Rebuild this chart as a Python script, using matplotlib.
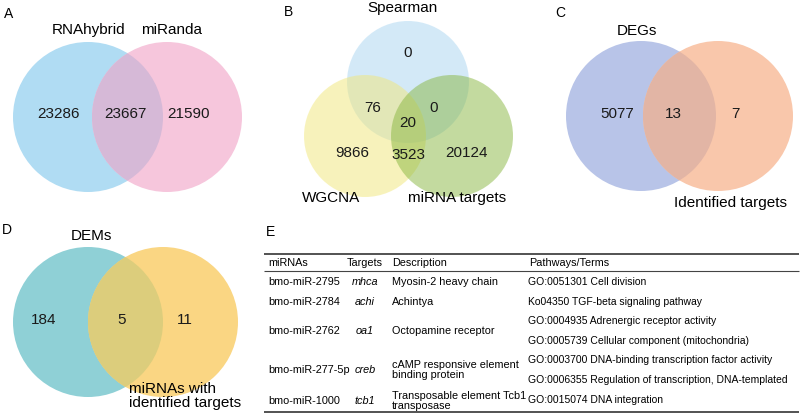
import matplotlib
matplotlib.use("Agg")
import matplotlib.pyplot as plt
from matplotlib.patches import Circle

plt.rcParams['font.family'] = ['Liberation Sans', 'DejaVu Sans']

# panel A
a_sets = ["RNAhybrid", "miRanda"]
a_counts = [23286, 23667, 21590]
# panel B: Spearman only, Spearman&WGCNA, Spearman&targets, all three, WGCNA only, WGCNA&targets, targets only
b_sets = ["Spearman", "WGCNA", "miRNA targets"]
b_counts = [0, 76, 0, 20, 9866, 3523, 20124]
# panel C
c_sets = ["DEGs", "Identified targets"]
c_counts = [5077, 13, 7]
# panel D
d_sets = ["DEMs", "miRNAs with\nidentified targets"]
d_counts = [184, 5, 11]

# panel E table
headers = ["miRNAs", "Targets", "Description", "Pathways/Terms"]
mirnas = ["bmo-miR-2795", "bmo-miR-2784", "bmo-miR-2762", "bmo-miR-277-5p", "bmo-miR-1000"]
targets = ["mhca", "achi", "oa1", "creb", "tcb1"]
descriptions = ["Myosin-2 heavy chain", "Achintya", "Octopamine receptor",
                "cAMP responsive element\nbinding protein",
                "Transposable element Tcb1\ntransposase"]
terms = [["GO:0051301 Cell division"],
         ["Ko04350 TGF-beta signaling pathway"],
         ["GO:0004935 Adrenergic receptor activity",
          "GO:0005739 Cellular component (mitochondria)"],
         ["GO:0003700 DNA-binding transcription factor activity",
          "GO:0006355 Regulation of transcription, DNA-templated"],
         ["GO:0015074 DNA integration"]]

fig = plt.figure(figsize=(8, 4.15), dpi=100)
ax = fig.add_axes([0, 0, 1, 1])
ax.set_xlim(0, 800)
ax.set_ylim(415, 0)
ax.axis('off')

FS = 11


def venn2(c1, c2, r, col1, col2, colx):
    p1 = Circle(c1, r, facecolor=col1, edgecolor='none')
    p2 = Circle(c2, r, facecolor=col2, edgecolor='none')
    ax.add_patch(p1)
    ax.add_patch(p2)
    px = Circle(c2, r, facecolor=colx, edgecolor='none')
    ax.add_patch(px)
    px.set_clip_path(p1)


def counts2(xs, y, counts):
    for x, v in zip(xs, counts):
        ax.text(x, y, str(v), fontsize=FS, ha='center', va='center', color='#1a1a1a')


# A
ax.text(4, 14, "A", fontsize=10, ha='left', va='center')
venn2((88, 117), (167, 117), 75, '#b0dcf3', '#f6c6dc', '#d6b9d7')
counts2([59, 125, 189], 114, a_counts)
ax.text(89, 30, a_sets[0], fontsize=FS, ha='center', va='center')
ax.text(172, 30, a_sets[1], fontsize=FS, ha='center', va='center')

# B
ax.text(284, 12, "B", fontsize=10, ha='left', va='center')
for c, col in zip([(408, 82), (365, 136), (452, 136)], ['#a9d5f1', '#f1e779', '#89b741']):
    ax.add_patch(Circle(c, 61, facecolor=col, edgecolor='none', alpha=0.5))
b_pos = [(408, 53), (373, 108), (434, 108), (408, 123), (352, 153), (408, 155), (466, 153)]
for (x, y), v in zip(b_pos, b_counts):
    ax.text(x, y, str(v), fontsize=FS, ha='center', va='center', color='#1a1a1a')
ax.text(402, 8, b_sets[0], fontsize=FS, ha='center', va='center')
ax.text(331, 198, b_sets[1], fontsize=FS, ha='center', va='center')
ax.text(457, 198, b_sets[2], fontsize=FS, ha='center', va='center')

# C
ax.text(555, 13, "C", fontsize=10, ha='left', va='center')
venn2((641, 116), (718, 116), 75, '#b8c4e8', '#f9c7ab', '#e2b5a5')
counts2([617, 673, 735], 114, c_counts)
ax.text(637, 31, c_sets[0], fontsize=FS, ha='center', va='center')
ax.text(730, 203, c_sets[1], fontsize=FS, ha='center', va='center')

# D
ax.text(2, 230, "D", fontsize=10, ha='left', va='center')
venn2((88, 322), (163, 322), 75, '#8fd0d6', '#fad683', '#dccd7c')
counts2([44, 122, 185], 320, d_counts)
ax.text(91, 236, d_sets[0], fontsize=FS, ha='center', va='center')
ax.text(129, 396, d_sets[1], fontsize=FS, ha='left', va='center', linespacing=1.05)

# E table
TF = 7.8
ax.text(266, 232, "E", fontsize=10, ha='left', va='center')
x_mir, x_tar, x_desc, x_term = 268, 365, 392, 528
ax.hlines(254, 264, 799, color='#444444', lw=1.3)
ax.hlines(271, 264, 799, color='#444444', lw=0.8)
ax.hlines(412, 264, 799, color='#444444', lw=1.3)
ax.text(x_mir, 263, headers[0], fontsize=TF, ha='left', va='center')
ax.text(347, 263, headers[1], fontsize=TF, ha='left', va='center')
ax.text(x_desc, 263, headers[2], fontsize=TF, ha='left', va='center')
ax.text(x_term + 1, 263, headers[3], fontsize=TF, ha='left', va='center')

y = 282
step = 19.6
for mir, tar, desc, tlist in zip(mirnas, targets, descriptions, terms):
    ys = [y + i * step for i in range(len(tlist))]
    yc = sum(ys) / len(ys)
    if len(tlist) == 1 and "\n" in desc:
        yc += 1.5
    ax.text(x_mir, yc, mir, fontsize=TF, ha='left', va='center')
    ax.text(x_tar, yc, tar, fontsize=TF, ha='center', va='center', style='italic')
    ax.text(x_desc, yc, desc, fontsize=TF, ha='left', va='center', linespacing=0.95)
    for yy, t in zip(ys, tlist):
        ax.text(x_term, yy, t, fontsize=7.45, ha='left', va='center')
    y = ys[-1] + step

fig.savefig("out.png", dpi=100)
